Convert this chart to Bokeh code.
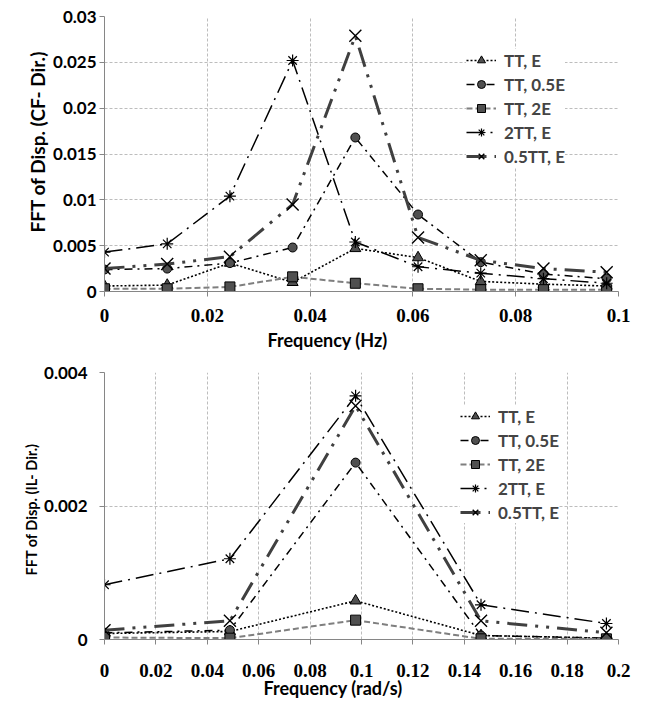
from bokeh.plotting import figure
from bokeh.layouts import column
from bokeh.models import FixedTicker, Legend, LegendItem, Range1d, Title
from bokeh.embed import file_html
from bokeh.resources import INLINE

# ---------------- data ----------------
series_names = ["TT, E", "TT, 0.5E", "TT, 2E", "2TT, E", "0.5TT, E"]

# top chart (CF- Dir.), frequency in Hz
freq_hz = [0.0, 0.0122, 0.0244, 0.0366, 0.0488, 0.0610, 0.0732, 0.0854, 0.0977]
cf_tt_e = [0.0006, 0.0007, 0.0031, 0.0010, 0.0047, 0.0037, 0.0011, 0.0008, 0.0006]
cf_tt_05e = [0.0024, 0.0025, 0.0031, 0.0048, 0.0168, 0.0084, 0.0032, 0.0019, 0.0014]
cf_tt_2e = [0.0003, 0.0003, 0.0005, 0.0016, 0.0009, 0.0003, 0.0002, 0.0002, 0.0002]
cf_2tt_e = [0.0043, 0.0052, 0.0104, 0.0252, 0.0054, 0.0027, 0.0020, 0.0014, 0.0009]
cf_05tt_e = [0.0025, 0.0030, 0.0038, 0.0095, 0.0279, 0.0059, 0.0034, 0.0025, 0.0021]

# bottom chart (IL- Dir.), frequency in rad/s
freq_rad = [0.0, 0.0488, 0.0977, 0.1465, 0.1953]
il_tt_e = [0.00009, 0.00012, 0.00058, 0.00006, 0.00002]
il_tt_05e = [0.00010, 0.00014, 0.00265, 0.00006, 0.00002]
il_tt_2e = [0.00003, 0.00002, 0.00029, 0.00001, 0.00001]
il_2tt_e = [0.00082, 0.00121, 0.00365, 0.00052, 0.00024]
il_05tt_e = [0.00014, 0.00028, 0.00350, 0.00028, 0.00010]

# tick labels
top_x_ticks = [0.0, 0.02, 0.04, 0.06, 0.08, 0.1]
top_x_labels = ["0", "0.02", "0.04", "0.06", "0.08", "0.1"]
top_y_ticks = [0.0, 0.005, 0.01, 0.015, 0.02, 0.025, 0.03]
top_y_labels = ["0", "0.005", "0.01", "0.015", "0.02", "0.025", "0.03"]
bot_x_ticks = [0.0, 0.02, 0.04, 0.06, 0.08, 0.1, 0.12, 0.14, 0.16, 0.18, 0.2]
bot_x_labels = ["0", "0.02", "0.04", "0.06", "0.08", "0.1", "0.12", "0.14", "0.16", "0.18", "0.2"]
bot_y_ticks = [0.0, 0.002, 0.004]
bot_y_labels = ["0", "0.002", "0.004"]

# ---------------- styles ----------------
styles = [
    dict(color="black", width=1.6, dash="2 2", marker="triangle", size=11,
         fill="#505050", mline="black", mlw=1),
    dict(color="black", width=1.5, dash="8 5 2 5", marker="circle", size=9,
         fill="#505050", mline="black", mlw=1),
    dict(color="#7f7f7f", width=2, dash="6 3", marker="square", size=10,
         fill="#505050", mline="black", mlw=1),
    dict(color="black", width=1.5, dash="18 6 2 6", marker="asterisk", size=12,
         fill=None, mline="black", mlw=1.2),
    dict(color="#404040", width=3, dash="20 8 3 8 3 8", marker="x", size=17,
         fill=None, mline="black", mlw=1.4),
]

SANS = "Lato"
SERIF = "'Liberation Serif'"


def make_plot(x, ys, x_end, y_end, xt, xl, yt, yl, xlabel, ylabel, ylabel_size,
              height, borders, x_standoff, y_standoff, legend_loc,
              xtitle, ytitle):
    bl, br, bt, bb = borders
    p = figure(width=639, height=height, output_backend="svg", toolbar_location=None,
               x_range=Range1d(0, x_end), y_range=Range1d(0, y_end),
               min_border_left=bl, min_border_right=br, min_border_top=bt,
               min_border_bottom=bb)
    p.outline_line_color = None
    p.background_fill_color = "white"

    p.xaxis.ticker = FixedTicker(ticks=xt)
    p.xaxis.major_label_overrides = {t: l for t, l in zip(xt, xl)}
    p.yaxis.ticker = FixedTicker(ticks=yt)
    p.yaxis.major_label_overrides = {t: l for t, l in zip(yt, yl)}

    for ax in (p.xaxis[0], p.yaxis[0]):
        ax.axis_line_color = "#868686"
        ax.axis_line_width = 1
        ax.major_tick_line_color = "#868686"
        ax.major_tick_out = 5
        ax.major_tick_in = 0
        ax.minor_tick_line_color = None
        ax.major_label_text_color = "black"
        ax.major_label_text_font_style = "bold"

    p.xaxis.major_label_text_font = SERIF
    p.xaxis.major_label_text_font_size = "19px"
    p.xaxis.major_label_standoff = x_standoff

    p.yaxis.major_label_text_font = SANS
    p.yaxis.major_label_text_font_size = "17px"
    p.yaxis.major_label_standoff = y_standoff

    for g in (p.xgrid[0], p.ygrid[0]):
        g.grid_line_color = "#bdbdbd"
        g.grid_line_dash = "3 2"
        g.grid_line_width = 1

    # axis titles, positioned as in the reference (not centred on the frame)
    xo, xs = xtitle
    yo, ys_ = ytitle
    p.add_layout(Title(text=xlabel, align="left", offset=xo, standoff=xs,
                       text_font=SANS, text_font_style="bold", text_font_size="18px",
                       text_color="black"), "below")
    p.add_layout(Title(text=ylabel, align="left", offset=yo, standoff=ys_,
                       text_font=SANS, text_font_style="bold", text_font_size=ylabel_size,
                       text_color="black"), "left")

    items = []
    for name, yv, st in zip(series_names, ys, styles):
        ln = p.line(x, yv, line_color=st["color"], line_width=st["width"],
                    line_dash=st["dash"])
        sc = p.scatter(x, yv, marker=st["marker"], size=st["size"],
                       fill_color=st["fill"], line_color=st["mline"],
                       line_width=st["mlw"])
        items.append(LegendItem(label=name, renderers=[ln, sc]))

    leg = Legend(items=items, location=legend_loc)
    leg.label_text_font = SANS
    leg.label_text_font_style = "bold"
    leg.label_text_font_size = "17px"
    leg.label_height = 22
    leg.glyph_height = 20
    leg.glyph_width = 30
    leg.label_standoff = 8
    leg.spacing = 2
    leg.padding = 6
    leg.border_line_color = None
    leg.background_fill_color = "white"
    leg.background_fill_alpha = 1.0
    p.add_layout(leg)
    return p


p1 = make_plot(freq_hz, [cf_tt_e, cf_tt_05e, cf_tt_2e, cf_2tt_e, cf_05tt_e],
               0.1, 0.03, top_x_ticks, top_x_labels, top_y_ticks, top_y_labels,
               "Frequency (Hz)", "FFT of Disp. (CF- Dir.)", "19px",
               height=362, borders=(97, 16, 16, 71), x_standoff=12, y_standoff=3,
               legend_loc=(362, 124), xtitle=(163, 4), ytitle=(59, 4))

p2 = make_plot(freq_rad, [il_tt_e, il_tt_05e, il_tt_2e, il_2tt_e, il_05tt_e],
               0.2, 0.004, bot_x_ticks, bot_x_labels, bot_y_ticks, bot_y_labels,
               "Frequency (rad/s)", "FFT of Disp. (IL- Dir.)", "14.5px",
               height=342, borders=(104, 21, 10, 65), x_standoff=19, y_standoff=12,
               legend_loc=(356, 116), xtitle=(159, -10), ytitle=(64, 4))

layout = column(p1, p2, spacing=0)
open("out.html", "w").write(file_html(layout, INLINE))
